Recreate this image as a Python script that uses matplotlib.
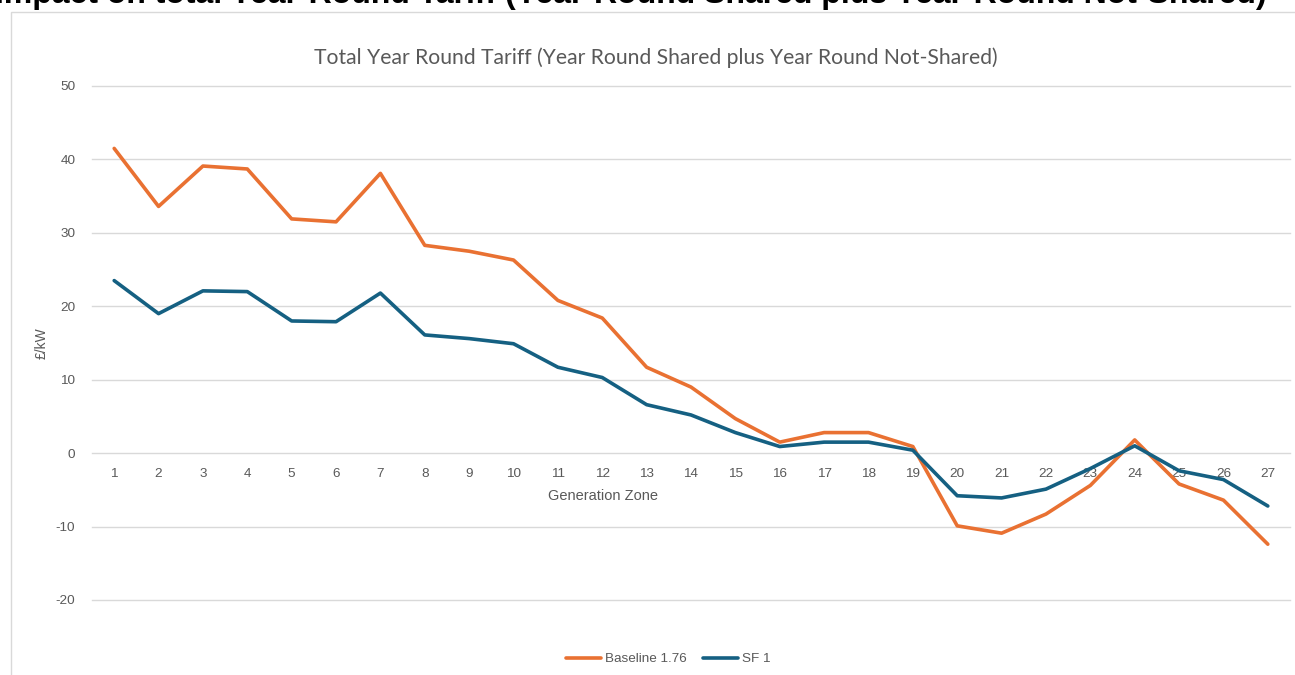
import matplotlib
matplotlib.use("Agg")
import matplotlib.pyplot as plt
from matplotlib.patches import Rectangle

zones = list(range(1, 28))
baseline = [41.5, 33.6, 39.1, 38.7, 31.9, 31.5, 38.1, 28.3, 27.5, 26.3,
            20.8, 18.4, 11.7, 9.0, 4.7, 1.5, 2.8, 2.8, 0.9, -9.9,
            -10.9, -8.3, -4.4, 1.8, -4.2, -6.4, -12.4]
sf1 = [23.5, 19.0, 22.1, 22.0, 18.0, 17.9, 21.8, 16.1, 15.6, 14.9,
       11.7, 10.3, 6.6, 5.2, 2.8, 0.9, 1.5, 1.5, 0.4, -5.8,
       -6.1, -4.9, -2.1, 1.0, -2.4, -3.6, -7.2]
yticks = [-20, -10, 0, 10, 20, 30, 40, 50]

ORANGE = "#E97132"
BLUE = "#156082"
GREY = "#595959"

plt.rcParams["font.family"] = ["Liberation Sans", "DejaVu Sans"]
plt.rcParams["axes.unicode_minus"] = False

fig = plt.figure(figsize=(12.95, 6.75), dpi=100)

# chart-area border (runs off the right and bottom edges)
fig.patches.append(Rectangle((11 / 1295, -0.1), 2, 0.1 + 1 - 12 / 675,
                             transform=fig.transFigure, fill=False,
                             edgecolor="#D9D9D9", linewidth=1.0))

# page heading, mostly cut off at the top
fig.text(-0.004, 1 - 3.5 / 675,
         "Impact on total Year-Round Tariff (Year-Round Shared plus Year-Round Not-Shared)",
         fontsize=23, fontweight="bold", ha="left", va="baseline", color="black")

ax = fig.add_axes([92 / 1295, 1 - 600 / 675, 1198 / 1295, (600 - 86) / 675])
ax.plot(zones, baseline, color=ORANGE, linewidth=2.6, label="Baseline 1.76",
        solid_joinstyle="round", solid_capstyle="round")
ax.plot(zones, sf1, color=BLUE, linewidth=2.6, label="SF 1",
        solid_joinstyle="round", solid_capstyle="round")

ax.set_xlim(0.5, 27.5)
ax.set_ylim(-20, 50)
ax.set_yticks(yticks)
ax.set_xticks(zones)
ax.grid(axis="y", color="#D9D9D9", linewidth=1.0)
for gl in ax.get_ygridlines():
    gl.set_clip_on(False)
ax.set_axisbelow(True)
for s in ax.spines.values():
    s.set_visible(False)
ax.spines["bottom"].set_position(("data", 0))
ax.tick_params(axis="both", length=0, labelsize=9.7, labelcolor=GREY)
ax.tick_params(axis="y", pad=12)
ax.tick_params(axis="x", pad=11)

ax.set_xlabel("Generation Zone", fontsize=10.5, color=GREY, labelpad=6)
ax.xaxis.label.set_x((603 - 92) / 1198)
ax.set_ylabel("£/kW", fontsize=10, color=GREY, labelpad=5)

fig.text(656 / 1295, 1 - 58 / 675,
         "Total Year Round Tariff (Year Round Shared plus Year Round Not-Shared)",
         fontsize=15.2, color=GREY, ha="center", va="center",
         family=["Lato", "DejaVu Sans"])

fig.legend(loc="center", bbox_to_anchor=(668 / 1295, 1 - 659 / 675), ncol=2,
           frameon=False, fontsize=9.7, labelcolor=GREY, handlelength=2.6,
           handletextpad=0.3, columnspacing=1.2)

fig.savefig("out.png", dpi=100)
